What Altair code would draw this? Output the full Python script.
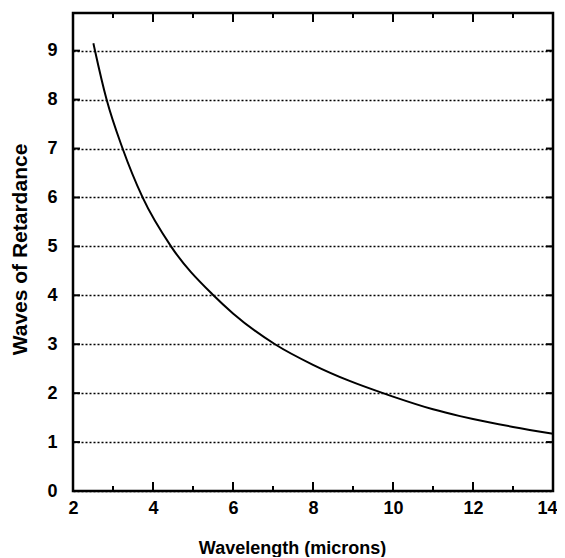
import altair as alt
import pandas as pd

# Curve
wavelength = [2.51, 2.55, 2.84, 3.24, 3.74, 4.45, 5.51, 6.0, 7.05, 8.0, 8.93, 9.75, 10.0, 11.0, 11.675, 12.0, 13.0, 14.0]
waves = [9.15, 9.0, 8.0, 7.0, 6.0, 5.0, 4.0, 3.63, 3.0, 2.58, 2.245, 2.0, 1.93, 1.67, 1.53, 1.47, 1.31, 1.17]

x_major = [2, 4, 6, 8, 10, 12, 14]
x_minor = [3, 5, 7, 9, 11, 13]
y_ticks = [0, 1, 2, 3, 4, 5, 6, 7, 8, 9]

W, H = 480, 478
FONT = "Liberation Sans"

curve_df = pd.DataFrame({"x": wavelength, "y": waves})
xmaj_df = pd.DataFrame({"x": x_major})
xmin_df = pd.DataFrame({"x": x_minor})
y_df = pd.DataFrame({"y": y_ticks})

xscale = alt.Scale(domain=[2, 14], nice=False, zero=False)
yscale = alt.Scale(domain=[0, 9.77], nice=False, zero=True)

xaxis = alt.Axis(values=x_major, title="Wavelength (microns)", grid=False, ticks=False,
                 domain=False, labelPadding=8, labelFontSize=18, labelFont=FONT,
                 labelFontWeight="bold", labelColor="black", labelFlush=False,
                 labelOffset={"expr": "datum.value == 14 ? -6 : 0"},
                 titleFont=FONT, titleFontSize=18, titleFontWeight="bold", titleColor="black",
                 titleX=219, titleY=57, titleBaseline="middle", titleAlign="center")
yaxis = alt.Axis(values=y_ticks, title="Waves of Retardance", grid=True, gridColor="black",
                 gridDash=[2, 2], gridWidth=1.5, ticks=False, domain=False,
                 labelPadding=16, labelFontSize=18, labelFont=FONT, labelFontWeight="bold",
                 labelColor="black", labelFlush=False, titleFont=FONT, titleFontSize=21,
                 titleFontWeight="bold", titleColor="black", titleX=-53, titleY=236,
                 titleBaseline="middle", titleAlign="center", titleAngle=270)

curve = alt.Chart(curve_df).mark_line(color="black", strokeWidth=2, interpolate="monotone").encode(
    x=alt.X("x:Q", scale=xscale, axis=xaxis),
    y=alt.Y("y:Q", scale=yscale, axis=yaxis),
)

def xticks(df, length):
    bot = alt.Chart(df).mark_rule(color="black", strokeWidth=2).encode(
        x=alt.X("x:Q", scale=xscale), y=alt.value(H), y2=alt.value(H - length))
    top = alt.Chart(df).mark_rule(color="black", strokeWidth=2).encode(
        x=alt.X("x:Q", scale=xscale), y=alt.value(0), y2=alt.value(length))
    return bot + top

left_y = alt.Chart(y_df).mark_rule(color="black", strokeWidth=2).encode(
    y=alt.Y("y:Q", scale=yscale), x=alt.value(0), x2=alt.value(7))
right_y = alt.Chart(y_df).mark_rule(color="black", strokeWidth=2).encode(
    y=alt.Y("y:Q", scale=yscale), x=alt.value(W), x2=alt.value(W - 7))

chart = alt.layer(curve, xticks(xmaj_df, 9), xticks(xmin_df, 5), left_y, right_y).properties(
    width=W, height=H,
    autosize=alt.AutoSizeParams(type="none"),
    padding={"left": 65, "top": 5, "right": 4, "bottom": 66},
    background="white",
).configure_view(stroke="black", strokeWidth=2.5)

chart.save("out.html", embed_options={"renderer": "svg", "actions": False})
